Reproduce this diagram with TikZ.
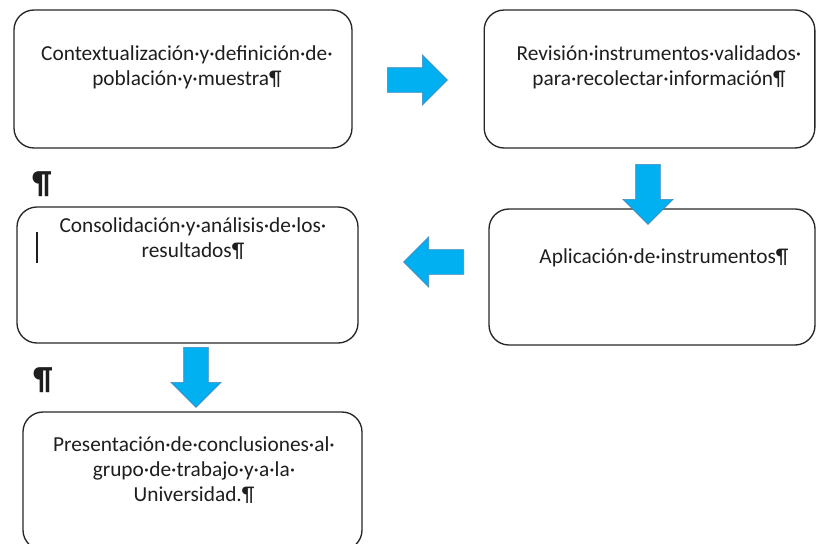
\documentclass[tikz,border=0pt]{standalone}
\usepackage{fontspec}
\setmainfont{Carlito}
\usepackage{tikz}
\usetikzlibrary{shapes.arrows}
\usetikzlibrary{calc,positioning}

\definecolor{azulflecha}{RGB}{0,176,240}
\definecolor{bordeflecha}{RGB}{70,135,185}
\definecolor{tinta}{RGB}{30,30,30}

\begin{document}
\begin{tikzpicture}[x=0.75pt, y=-0.75pt,
        caja/.style={draw=black!85, line width=1pt, rounded corners=15pt, inner sep=0pt},
        texto/.style={text=tinta, align=center, inner sep=0pt, font=\fontsize{16}{18.75}\selectfont},
        flecha/.style={single arrow, fill=azulflecha, draw=bordeflecha, line width=0.5pt, minimum height=45pt,
            inner sep=9pt, single arrow head extend=9.5pt, single arrow head indent=0pt, anchor=tail},
        parrafo/.style={text=tinta, inner sep=0pt, font=\fontsize{24}{24}\selectfont\bfseries}]
    \useasboundingbox (0,0) rectangle (817,543);
    \clip (0,0) rectangle (817,543);

    % cajas
    \node [caja, minimum width=253.5pt, minimum height=103.5pt] (contexto) at (183,79) {};
    \node [caja, minimum width=248pt, minimum height=103.5pt] (revision) at (649.5,79) {};
    \node [caja, minimum width=244.5pt, minimum height=102pt] (aplicacion) at (652,277) {};
    \node [caja, minimum width=255.75pt, minimum height=102pt] (consolidacion) at (187.5,275) {};
    \node [caja, minimum width=254.25pt, minimum height=103.5pt] (presentacion) at (192.5,481) {};

    \node [texto] (t-contexto) at (187,67.5) {Contextualización·y·definición·de·\\población·y·muestra¶};
    \node [texto] (t-revision) at (659,67.5) {Revisión·instrumentos·validados·\\para·recolectar·información¶};
    \node [texto] (t-aplicacion) at (664,258) {Aplicación·de·instrumentos¶};
    \node [texto] (t-consolidacion) at (193,238.5) {Consolidación·y·análisis·de·los·\\resultados¶};
    \node [texto] (t-presentacion) at (194,470) {Presentación·de·conclusiones·al·\\grupo·de·trabajo·y·a·la·\\Universidad.¶};

    % flechas
    \node [flecha] (f1) at (387,80) {};
    \node [flecha, shape border rotate=270] (f2) at (648,164) {};
    \node [flecha, shape border rotate=180] (f3) at (464,262) {};
    \node [flecha, shape border rotate=270] (f4) at (196,347) {};

    \node [parrafo] (p1) at (42,184) {¶};
    \node [parrafo] (p2) at (43,380) {¶};
    \draw [tinta, line width=1pt] (37,232) -- (37,263);
\end{tikzpicture}
\end{document}
